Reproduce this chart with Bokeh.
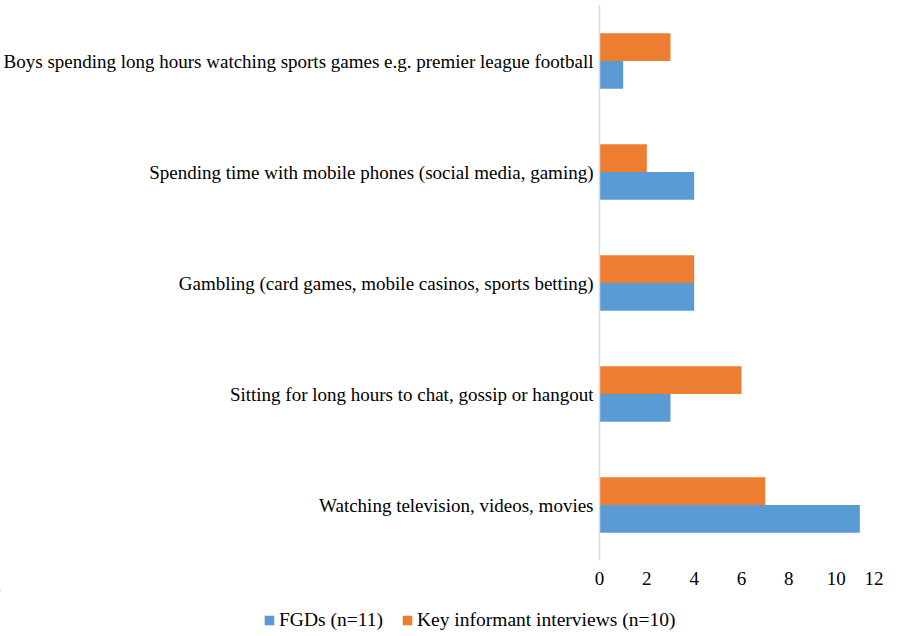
from bokeh.plotting import figure
from bokeh.models import ColumnDataSource, FixedTicker, Legend, LegendItem
from bokeh.embed import file_html
from bokeh.resources import INLINE

categories = [
    "Watching television, videos, movies",
    "Sitting for long hours to chat, gossip or hangout",
    "Gambling (card games, mobile casinos, sports betting)",
    "Spending time with mobile phones (social media, gaming)",
    "Boys spending long hours watching sports games e.g. premier league football",
]
fgd = [11, 3, 4, 4, 1]
kii = [7, 6, 4, 2, 3]
series_names = ["FGDs (n=11)", "Key informant interviews (n=10)"]
x_ticks = [0, 2, 4, 6, 8, 10, 12]

FONT = "Liberation Serif"
BLUE = "#5B9BD5"
ORANGE = "#ED7D31"

pos = list(range(len(categories)))
src = ColumnDataSource(dict(
    y_fgd=[p - 0.125 for p in pos],
    y_kii=[p + 0.125 for p in pos],
    fgd=fgd, kii=kii,
))

p = figure(width=883, height=590, output_backend="svg", toolbar_location=None,
           x_range=(0, 12), y_range=(-0.5, len(categories) - 0.5),
           min_border_left=595, min_border_right=0, min_border_top=5, min_border_bottom=30)
p.outline_line_color = None
p.xgrid.visible = False
p.ygrid.visible = False

r1 = p.hbar(y="y_fgd", right="fgd", left=0, height=0.25, source=src,
            fill_color=BLUE, line_color=None)
r2 = p.hbar(y="y_kii", right="kii", left=0, height=0.25, source=src,
            fill_color=ORANGE, line_color=None)

p.xaxis.ticker = FixedTicker(ticks=x_ticks)
p.xaxis.axis_line_color = None
p.xaxis.major_tick_line_color = None
p.xaxis.minor_tick_line_color = None
p.xaxis.major_label_text_font = FONT
p.xaxis.major_label_text_font_size = "19px"
p.xaxis.major_label_text_color = "#000000"
p.xaxis.major_label_standoff = 5

p.yaxis.ticker = FixedTicker(ticks=pos)
p.yaxis.major_label_overrides = {i: c for i, c in enumerate(categories)}
p.yaxis.axis_line_color = "#D9D9D9"
p.yaxis.axis_line_width = 1.5
p.yaxis.major_tick_line_color = None
p.yaxis.minor_tick_line_color = None
p.yaxis.major_label_text_font = FONT
p.yaxis.major_label_text_font_size = "19px"
p.yaxis.major_label_text_color = "#000000"
p.yaxis.major_label_standoff = 0

# legend strip below the chart (separate root, so frames are not aligned);
# its renderers reuse the series data but the view ranges keep them out of sight
lg = figure(width=883, height=42, output_backend="svg", toolbar_location=None,
            x_range=(100, 112), y_range=(-20, -19),
            x_axis_location=None, y_axis_location=None,
            min_border_left=0, min_border_right=0, min_border_top=0, min_border_bottom=0)
lg.outline_line_color = None
lg.xgrid.visible = False
lg.ygrid.visible = False
d1 = lg.hbar(y="y_fgd", right="fgd", left=0, height=0.25, source=src,
             fill_color=BLUE, line_color=None)
d2 = lg.hbar(y="y_kii", right="kii", left=0, height=0.25, source=src,
             fill_color=ORANGE, line_color=None)

legend = Legend(items=[LegendItem(label=series_names[0], renderers=[d1]),
                       LegendItem(label=series_names[1], renderers=[d2])],
                orientation="horizontal", location=(263, 1),
                label_text_font=FONT, label_text_font_size="19.5px",
                label_text_color="#000000",
                label_height=18, glyph_width=12, glyph_height=12, label_standoff=4,
                spacing=18, padding=0, margin=0,
                border_line_color=None, background_fill_alpha=0)
lg.add_layout(legend, "center")

open("out.html", "w").write(file_html([p, lg], INLINE))
